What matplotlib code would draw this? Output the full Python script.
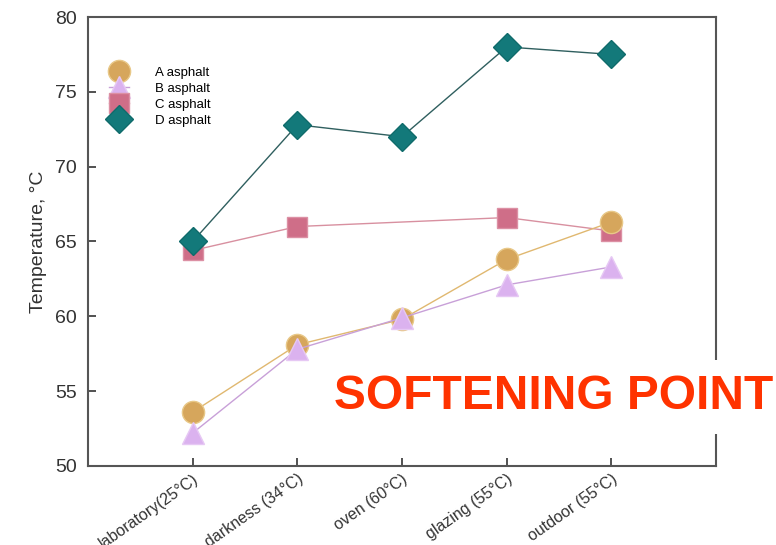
import numpy as np
import matplotlib.pyplot as plt

plt.rcParams['font.family'] = ['Liberation Sans', 'DejaVu Sans']

conditions = ['laboratory(25°C)', 'darkness (34°C)', 'oven (60°C)', 'glazing (55°C)', 'outdoor (55°C)']
a_asphalt = [53.6, 58.1, 59.8, 63.8, 66.3]
b_asphalt = [52.2, 57.8, 59.9, 62.1, 63.3]
c_asphalt = [64.4, 66.0, 66.3, 66.6, 65.7]
d_asphalt = [65.0, 72.8, 72.0, 78.0, 77.5]

x = np.arange(1, len(conditions) + 1)

fig = plt.figure(figsize=(7.76, 5.45), dpi=100)
ax = fig.add_axes([0.1134, 0.145, 0.8093, 0.8238])

ax.plot(x, a_asphalt, color='#e0b870', lw=1, marker='o', ms=16,
        mfc='#d6a65c', mec='#e8c888', label='A asphalt', zorder=3)
ax.plot(x, b_asphalt, color='#c8a0d8', lw=1, marker='^', ms=16,
        mfc='#dbb2ef', mec='#e6c8f4', label='B asphalt', zorder=3)
ax.plot(x, c_asphalt, color='#d890a0', lw=1, marker='s', ms=14,
        mfc='#cf6e88', mec='#dc90a4', markevery=[0, 1, 3, 4], label='C asphalt', zorder=2)
ax.plot(x, d_asphalt, color='#2f5f5f', lw=1, marker='D', ms=14,
        mfc='#13797a', mec='#0f6b6b', label='D asphalt', zorder=4)

ax.set_xlim(0, 6)
ax.set_ylim(50, 80)
ax.set_yticks([50, 55, 60, 65, 70, 75, 80])
ax.set_xticks(x)
ax.set_xticklabels(conditions, rotation=35, ha='right', rotation_mode='anchor')
ax.tick_params(direction='in', length=6, width=1.2, colors='#333333')
ax.tick_params(axis='y', labelsize=14, pad=8)
ax.tick_params(axis='x', labelsize=11.5, pad=4)
ax.set_ylabel('Temperature, °C', fontsize=14, color='#333333', labelpad=6)
for s in ax.spines.values():
    s.set_linewidth(1.5)
    s.set_color('#555555')

ax.legend(loc='upper left', bbox_to_anchor=(0.025, 0.902), frameon=False, fontsize=9.5,
          handlelength=1.5, handletextpad=2.0, labelspacing=0.3, borderaxespad=0)

fig.text(0.713, 0.272, 'SOFTENING POINT', fontsize=34.5, fontweight='bold', color='#ff3300',
         ha='center', va='center',
         bbox=dict(facecolor='white', edgecolor='none', boxstyle='square,pad=0.3'))

fig.savefig('out.png', dpi=100)
